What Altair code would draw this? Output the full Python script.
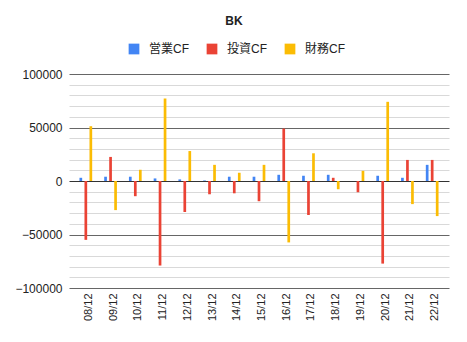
import altair as alt
import pandas as pd

years = ["08/12", "09/12", "10/12", "11/12", "12/12", "13/12", "14/12", "15/12",
         "16/12", "17/12", "18/12", "19/12", "20/12", "21/12", "22/12"]
operating = [3000, 4000, 4000, 2400, 1500, 500, 4000, 4000, 5800, 4900, 5800, 0, 4900, 3000, 15100]
investing = [-55000, 22500, -14200, -79000, -29000, -12400, -11500, -18900, 49000, -31800, 3000, -10500, -77200, 19700, 19700]
financing = [51200, -27200, 10500, 77100, 28000, 15100, 7700, 15100, -57400, 25900, -7700, 9500, 74000, -21600, -32800]

series = ["営業CF", "投資CF", "財務CF"]
colors = ["#4285F4", "#EA4335", "#FBBC04"]

rows = []
for i, y in enumerate(years):
    for s, vals in zip(series, [operating, investing, financing]):
        rows.append({"year": y, "series": s, "value": vals[i]})
df = pd.DataFrame(rows)

FONT = "Liberation Sans, Noto Sans CJK JP"
grid_vals = list(range(-100000, 100001, 10000))

grid_color = {
    "condition": [
        {"test": "datum.value === 0", "value": "#333333"},
        {"test": "datum.value % 50000 === 0", "value": "#666666"},
    ],
    "value": "#d9d9d9",
}

chart = alt.Chart(df).mark_bar(width=2.7).encode(
    x=alt.X("year:N", sort=years, title=None,
            scale=alt.Scale(paddingInner=0, paddingOuter=0.18),
            axis=alt.Axis(labelAngle=-90, labelFontSize=11, labelColor="#222222",
                          labelPadding=5, labelOffset=3, ticks=False, domain=False, grid=False)),
    xOffset=alt.XOffset("series:N", sort=series,
                        scale=alt.Scale(paddingInner=0.06, paddingOuter=1)),
    y=alt.Y("value:Q", title=None,
            scale=alt.Scale(domain=[-100000, 100000], nice=False, zero=False),
            axis=alt.Axis(values=grid_vals, format="d", labelOverlap=False,
                          labelExpr="datum.value % 50000 === 0 ? datum.label : ''",
                          labelFontSize=12, labelColor="#222222", labelPadding=7,
                          ticks=False, domain=False,
                          gridColor=grid_color, gridWidth=1)),
    color=alt.Color("series:N", sort=series, title=None,
                    scale=alt.Scale(domain=series, range=colors),
                    legend=alt.Legend(orient="none", direction="horizontal",
                                      legendX=59, legendY=-31,
                                      symbolType="square", symbolSize=115,
                                      symbolStrokeWidth=0, labelFontSize=12,
                                      labelColor="#222222", labelOffset=9,
                                      columnPadding=17, padding=0)),
).properties(
    width=380, height=214,
    title=alt.TitleParams("BK", fontSize=12, fontWeight="bold", font=FONT,
                          anchor="middle", dx=-25, offset=15, color="#222222"),
    padding={"left": 69, "top": 74, "right": 18, "bottom": 54},
    autosize=alt.AutoSizeParams(type="none"),
).configure(font=FONT).configure_view(stroke=None)

chart.save("out.html", embed_options={"renderer": "svg", "actions": False})
